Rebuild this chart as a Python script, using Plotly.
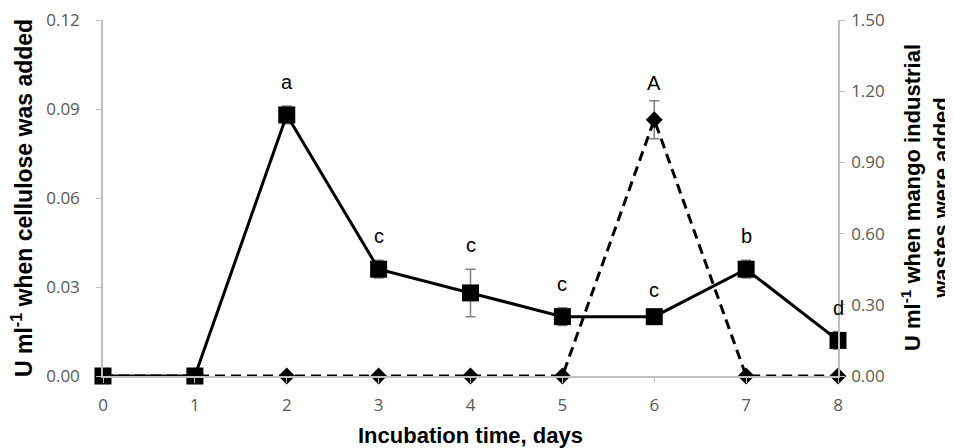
import plotly.graph_objects as go

days = [0, 1, 2, 3, 4, 5, 6, 7, 8]
cellulose = [0.0, 0.0, 0.088, 0.036, 0.028, 0.020, 0.020, 0.036, 0.012]
cellulose_err = [0.0, 0.0, 0.003, 0.003, 0.008, 0.003, 0.001, 0.003, 0.003]
cellulose_letters = ["", "", "a", "c", "c", "c", "c", "b", "d"]
mango = [0.0, 0.0, 0.0, 0.0, 0.0, 0.0, 1.08, 0.0, 0.0]
mango_err = [0, 0, 0, 0, 0, 0, 0.08, 0, 0]
mango_letters = ["", "", "", "", "", "", "A", "", ""]

left_ticks = [0.00, 0.03, 0.06, 0.09, 0.12]
right_ticks = [0.00, 0.30, 0.60, 0.90, 1.20, 1.50]

tickfont = dict(family="Open Sans, Liberation Sans, sans-serif", size=17, color="#595959")
titlefont = dict(family="Liberation Sans, Arial, sans-serif", size=22, color="black")
letterfont = dict(family="Liberation Sans, Arial", size=20, color="black")

fig = go.Figure()

# mango wastes (right axis, drawn beneath)
fig.add_trace(go.Scatter(
    x=days, y=mango, yaxis="y", mode="lines+markers",
    line=dict(color="black", width=3, dash="10px,6px"),
    marker=dict(symbol="diamond", size=13, color="black"),
    error_y=dict(type="data", array=mango_err, color="#808080", thickness=1.5, width=5),
    cliponaxis=False, showlegend=False,
))

# cellulose (left axis, drawn on top)
fig.add_trace(go.Scatter(
    x=days, y=cellulose, yaxis="y2", mode="lines+markers",
    line=dict(color="black", width=3),
    marker=dict(symbol="square", size=17, color="black"),
    error_y=dict(type="data", array=cellulose_err, color="#808080", thickness=1.5, width=5),
    cliponaxis=False, showlegend=False,
))

annotations = []
for d, v, e, t in zip(days, cellulose, cellulose_err, cellulose_letters):
    if t:
        annotations.append(dict(x=d, y=v + e, xref="x", yref="y2", text=t, showarrow=False,
                                yanchor="middle", yshift=24, font=letterfont))
for d, v, e, t in zip(days, mango, mango_err, mango_letters):
    if t:
        annotations.append(dict(x=d, y=v + e, xref="x", yref="y", text=t, showarrow=False,
                                yanchor="middle", yshift=18, font=letterfont))

# axis titles
annotations.append(dict(xref="paper", yref="paper", x=0, y=0.5, xshift=-81, textangle=-90,
                        text="<b>U ml<sup>-1</sup> when cellulose was added</b>",
                        showarrow=False, font=dict(titlefont, size=23), xanchor="center", yanchor="middle"))
annotations.append(dict(xref="paper", yref="paper", x=1, y=0.5, xshift=87, textangle=-90,
                        text="<b>U ml<sup>-1</sup> when mango industrial<br>wastes were added</b>",
                        showarrow=False, font=titlefont, xanchor="center", yanchor="middle"))
annotations.append(dict(xref="paper", yref="paper", x=0.5, y=0, yshift=-59,
                        text="<b>Incubation time, days</b>",
                        showarrow=False, font=titlefont, xanchor="center", yanchor="middle"))

axis_common = dict(showgrid=False, zeroline=False, showline=True, linecolor="#bfbfbf", linewidth=1.5,
                   ticks="outside", ticklen=5, tickcolor="#bfbfbf", tickfont=tickfont,
                   automargin=False, ticklabeloverflow="allow")

# the page body adds an 8px offset, so the figure is 8px smaller than the window
fig.update_layout(
    width=945, height=440,
    margin=dict(l=95, r=115, t=12, b=72),
    plot_bgcolor="white", paper_bgcolor="white",
    annotations=annotations,
    xaxis=dict(range=[0, 8], tickvals=days, ticktext=[str(d) for d in days],
               ticklabelstandoff=8, **axis_common),
    yaxis=dict(range=[0, 1.5], side="right", tickvals=right_ticks,
               ticktext=[f"{v:.2f}" for v in right_ticks], ticklabelstandoff=3, **axis_common),
    yaxis2=dict(range=[0, 0.12], side="left", overlaying="y", tickvals=left_ticks,
                ticktext=[f"{v:.2f}" for v in left_ticks], ticklabelstandoff=13, **axis_common),
)

fig.write_html("out.html")
